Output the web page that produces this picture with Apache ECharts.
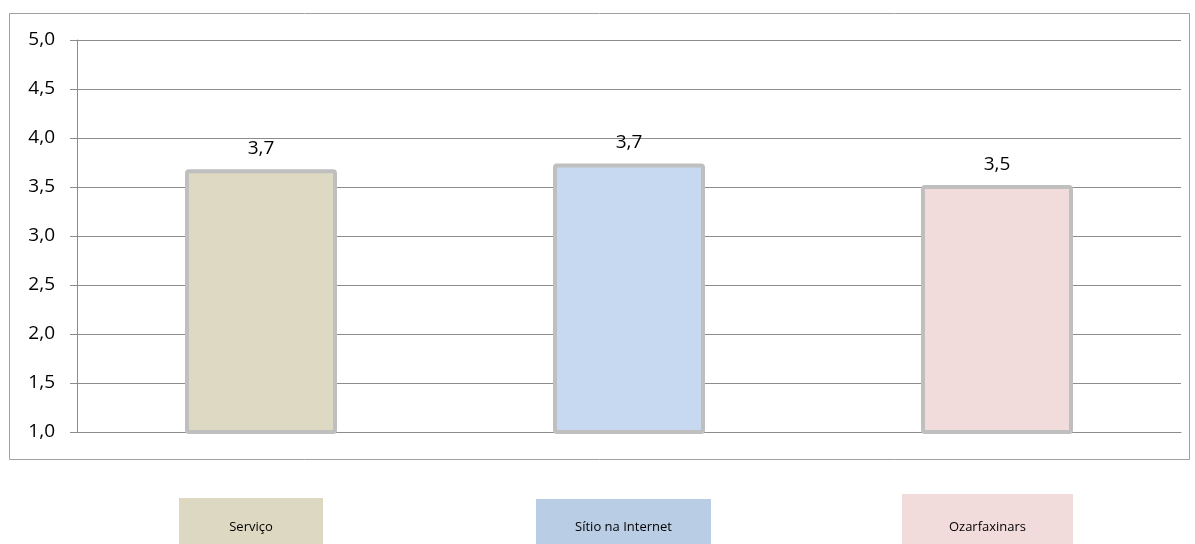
<!DOCTYPE html>
<html><head><meta charset="utf-8">
<script src="https://cdn.jsdelivr.net/npm/echarts@6/dist/echarts.min.js"></script>
<style>html,body{margin:0;padding:0;background:#fff}#c{width:1195px;height:544px}</style>
</head><body><div id="c"></div>
<script>
const categories = ['Serviço', 'Sítio na Internet', 'Ozarfaxinars'];
const values = [3.68, 3.74, 3.52];
const barColors = ['#ddd9c3', '#c6d9f1', '#f2dcdb'];
const legendColors = ['#ddd8c2', '#b9cde5', '#f2dcdb'];
const yTicks = { min: 1, max: 5, interval: 0.5 };

const chart = echarts.init(document.getElementById('c'));
const font = 'Open Sans, Noto Sans, sans-serif';
const legendBoxes = [
  {x: 179, y: 498, w: 144, h: 50},
  {x: 536, y: 499, w: 175, h: 50},
  {x: 902, y: 494, w: 171, h: 55}
];
const graphics = [{
  type: 'rect', shape: {x: 9.5, y: 13.5, width: 1180, height: 446},
  style: {fill: 'none', stroke: '#a0a0a0', lineWidth: 1}, z: 0
}];
categories.forEach((c, i) => {
  const b = legendBoxes[i];
  graphics.push({type: 'rect', shape: {x: b.x, y: b.y, width: b.w, height: b.h}, style: {fill: legendColors[i]}});
  graphics.push({type: 'text', x: b.x + b.w / 2, y: 527, style: {text: c, fill: '#000', font: '13px ' + font, textAlign: 'center', textVerticalAlign: 'middle'}});
});
chart.setOption({
  animation: false,
  grid: {left: 77, right: 14, top: 40, bottom: 112},
  xAxis: {
    type: 'category', data: categories,
    axisLine: {lineStyle: {color: '#8c8c8c', width: 1}},
    axisTick: {show: false}, axisLabel: {show: false}
  },
  yAxis: {
    type: 'value', min: yTicks.min, max: yTicks.max, interval: yTicks.interval,
    axisLine: {show: true, lineStyle: {color: '#8c8c8c', width: 1}},
    axisTick: {show: true, length: 7, lineStyle: {color: '#8c8c8c'}},
    splitLine: {lineStyle: {color: '#8c8c8c', width: 1}},
    axisLabel: {color: '#000', fontSize: 19, fontFamily: font, margin: 22,
      formatter: v => v.toFixed(1).replace('.', ',')}
  },
  series: [{
    type: 'bar', barWidth: 152,
    data: values.map((v, i) => ({value: v, itemStyle: {color: barColors[i]}})),
    itemStyle: {borderColor: '#bfbfbf', borderWidth: 4, borderRadius: 2},
    label: {show: true, position: 'top', distance: 11, color: '#000', fontSize: 19, fontFamily: font,
      formatter: p => p.value.toFixed(1).replace('.', ',')}
  }],
  graphic: graphics
});
</script></body></html>
